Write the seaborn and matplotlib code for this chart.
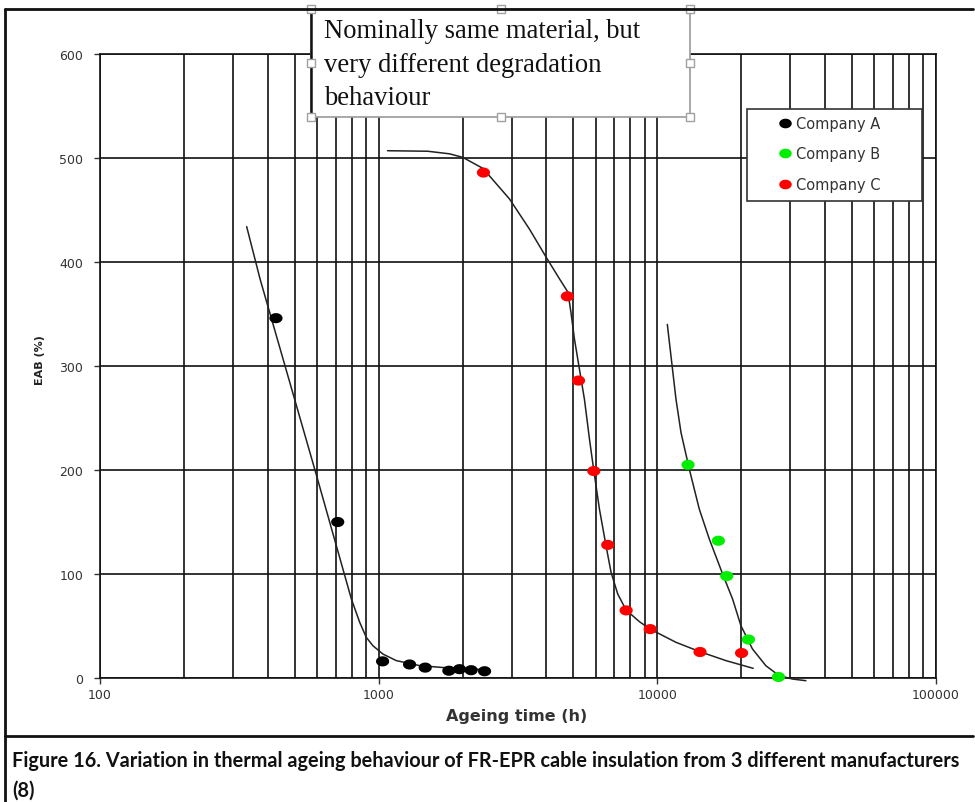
import numpy as np
import pandas as pd
import matplotlib
matplotlib.use("Agg")
import matplotlib.pyplot as plt
from matplotlib.path import Path
from matplotlib.lines import Line2D
from matplotlib.patches import Rectangle
from matplotlib.ticker import FixedLocator, LogLocator, NullFormatter
import seaborn as sns

# ---- measured data -------------------------------------------------------
companies = ["Company A", "Company B", "Company C"]
colors = ["#000000", "#00ee00", "#ff0000"]

a_time = [428, 713, 1033, 1291, 1469, 1786, 1950, 2147, 2399]
a_eab = [346, 150, 16, 13, 10, 7, 8.5, 7.5, 6.5]

b_time = [12890, 16560, 17740, 21230, 27210]
b_eab = [205, 132, 98, 37, 1]

c_time = [2377, 4755, 5213, 5915, 6637, 7728, 9425, 14230, 20060]
c_eab = [486, 367, 286, 199, 128, 65, 47, 25, 24]

# fitted trend curves
a_fit_time = [336, 375, 598, 798, 855, 903, 954, 1036, 1157, 1403, 1847, 2432]
a_fit_eab = [434, 384, 195, 76, 53.5, 39, 31, 23, 16.7, 11.9, 9.3, 8]

b_fit_time = [10860, 11667, 12160, 13020, 14140, 15360, 17150, 18620, 19950,
              21950, 24520, 27370, 30560, 34120]
b_fit_eab = [340, 268, 236, 201, 162.5, 133.7, 100, 76, 50.3,
             27.9, 11.8, 2.2, -1, -2.6]

c_fit_time = [1076, 1500, 1797, 2004, 2367, 2948, 3475, 3993, 4457, 4777, 4898,
              5041, 5475, 5706, 5912, 6197, 6546, 6823, 7208, 7723, 8620, 9412,
              11667, 14220, 17630, 22080]
c_fit_eab = [507, 506.5, 504, 500.6, 490, 460.6, 431.7, 404.5, 383.7, 371, 351.6,
             326, 268, 230, 200, 162.5, 127, 101.6, 80.8, 65.4, 54.2, 47.1,
             34.3, 25.3, 16.7, 9.3]

x_ticks = [100, 1000, 10000, 100000]
x_tick_labels = ["100", "1000", "10000", "100000"]
y_ticks = [0, 100, 200, 300, 400, 500, 600]

title_text = "Nominally same material, but\nvery different degradation\nbehaviour"
caption_text = ("Figure 16. Variation in thermal ageing behaviour of FR-EPR cable "
                "insulation from 3 different manufacturers\n(8)")

points = pd.concat([
    pd.DataFrame({"time": a_time, "eab": a_eab, "Company": companies[0]}),
    pd.DataFrame({"time": b_time, "eab": b_eab, "Company": companies[1]}),
    pd.DataFrame({"time": c_time, "eab": c_eab, "Company": companies[2]}),
], ignore_index=True)

fits = [
    pd.DataFrame({"time": a_fit_time, "eab": a_fit_eab}),
    pd.DataFrame({"time": b_fit_time, "eab": b_fit_eab}),
    pd.DataFrame({"time": c_fit_time, "eab": c_fit_eab}),
]

# ---- styling --------------------------------------------------------------
sns.set_theme(style="white")
plt.rcParams["font.family"] = ["DejaVu Sans"]

W, H = 975, 803
fig = plt.figure(figsize=(W / 100, H / 100), dpi=100)
fig.patch.set_facecolor("white")


def fx(px):
    return px / W


def fy(py):
    return 1 - py / H


ax = fig.add_axes([fx(100), fy(679), fx(936) - fx(100), fy(55) - fy(679)])
ax.set_xscale("log")
ax.set_xlim(100, 100000)
ax.set_ylim(0, 600)

# grid: every minor decade step vertically, every 100 horizontally
ax.xaxis.set_major_locator(FixedLocator(x_ticks))
ax.xaxis.set_minor_locator(LogLocator(base=10, subs=np.arange(2, 10)))
ax.xaxis.set_minor_formatter(NullFormatter())
ax.set_xticks(x_ticks)
ax.set_xticklabels(x_tick_labels)
ax.set_yticks(y_ticks)
ax.grid(True, which="both", axis="x", color="#111111", lw=1.2)
ax.grid(True, which="major", axis="y", color="#111111", lw=1.2)
ax.set_axisbelow(True)

for s in ax.spines.values():
    s.set_color("#111111")
    s.set_linewidth(1.2)

ax.tick_params(axis="both", which="major", direction="out", length=4, width=1,
               color="#333333", labelsize=9, labelcolor="#333333",
               left=True, bottom=True)
ax.tick_params(axis="y", pad=8)
ax.tick_params(axis="x", pad=3)
ax.tick_params(axis="x", which="minor", length=0)

# trend curves
for df in fits:
    sns.lineplot(data=df, x="time", y="eab", ax=ax, sort=False, color="#222222",
                 lw=1.1, estimator=None, clip_on=False, zorder=3)

# measurement points as slightly flattened blobs
theta = np.linspace(0, 2 * np.pi, 41)
blob = Path(np.column_stack([1.3 * np.cos(theta), np.sin(theta)]), closed=True)
sns.scatterplot(data=points, x="time", y="eab", hue="Company",
                hue_order=companies, palette=colors, marker=blob, s=90,
                linewidth=0, ax=ax, legend=False, zorder=4, clip_on=False)

ax.set_xlabel("")
ax.set_ylabel("")

# axis titles
fig.text(fx(517), fy(717), "Ageing time (h)", ha="center", va="center",
         fontsize=11.5, fontweight="bold", color="#333333")
fig.text(fx(40), fy(360), "EAB (%)", ha="center", va="center", rotation=90,
         fontsize=8, fontweight="bold", color="#222222")

# legend
handles = [Line2D([], [], ls="none", marker=blob, markersize=9, color=c,
                  markeredgewidth=0) for c in colors]
leg = ax.legend(handles, companies, loc="upper left",
                bbox_to_anchor=(fx(779), fy(117)), bbox_transform=fig.transFigure,
                frameon=False, fontsize=10.5, labelspacing=1.05, handlelength=0.8,
                handletextpad=0.35, borderpad=0, borderaxespad=0)
for t in leg.get_texts():
    t.set_color("#333333")
fig.add_artist(Rectangle((fx(747), fy(202)), fx(922) - fx(747), fy(110) - fy(202),
                         transform=fig.transFigure, facecolor="none",
                         edgecolor="#333333", lw=1.2, zorder=6))
# white backing under the legend
ax.add_patch(Rectangle((fx(747), fy(202)), fx(922) - fx(747), fy(110) - fy(202),
                       transform=fig.transFigure, facecolor="white",
                       edgecolor="none", zorder=5))
leg.set_zorder(7)

# annotation box with selection handles
bx0, bx1, by0, by1 = 311, 690, 10, 118
fig.add_artist(Rectangle((fx(bx0), fy(by1)), fx(bx1) - fx(bx0), fy(by0) - fy(by1),
                         transform=fig.transFigure, facecolor="white",
                         edgecolor="#9a9a9a", lw=1.2, zorder=8))
fig.add_artist(Line2D([fx(bx0), fx(bx0)], [fy(by0), fy(by1)],
                      transform=fig.transFigure, color="#111111", lw=1.8, zorder=9))
fig.text(fx(324), fy(19), title_text, ha="left", va="top", fontsize=19.2,
         family="Liberation Serif", color="#111111", linespacing=1.45, zorder=10)
hs = 8
for hx in (bx0, (bx0 + bx1) / 2, bx1):
    for hy in (by0, (by0 + by1) / 2, by1):
        if hx == (bx0 + bx1) / 2 and hy == (by0 + by1) / 2:
            continue
        fig.add_artist(Rectangle((fx(hx - hs / 2), fy(hy + hs / 2)), fx(hs), hs / H,
                                 transform=fig.transFigure, facecolor="white",
                                 edgecolor="#a0a0a0", lw=1, zorder=11))

# outer frame and caption separator
frame_kw = dict(transform=fig.transFigure, color="#111111", lw=2, zorder=12)
fig.add_artist(Line2D([fx(5), fx(973)], [fy(10), fy(10)], **frame_kw))
fig.add_artist(Line2D([fx(5), fx(5)], [fy(10), fy(803)], **frame_kw))
fig.add_artist(Line2D([fx(5), fx(973)], [fy(737), fy(737)], **frame_kw))

fig.text(fx(12), fy(751), caption_text, ha="left", va="top", fontsize=14.35,
         fontweight="bold", family="Lato", color="#111111", linespacing=1.6)

fig.savefig("out.png", dpi=100)
